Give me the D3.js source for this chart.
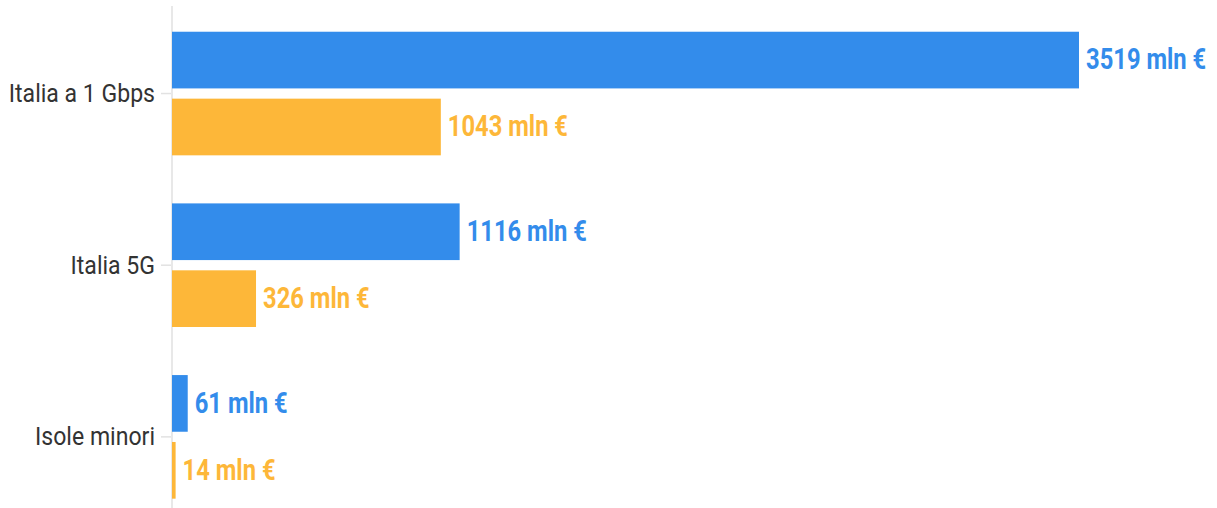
<!DOCTYPE html>
<html>
<head>
<meta charset="utf-8">
<script src="https://cdn.jsdelivr.net/npm/d3@7"></script>
<style>
  body { margin: 0; background: #fff; }
  svg { display: block; }
</style>
</head>
<body>
<div id="chart"></div>
<script>
var categories = ["Italia a 1 Gbps", "Italia 5G", "Isole minori"];
var seriesNames = ["a", "b"];
var seriesA = [3519, 1116, 61];
var seriesB = [1043, 326, 14];
var colors = ["#338ceb", "#fdb739"];

var w = 1217, h = 508;
var x0 = 172;
// no condensed font installed, so squeeze Roboto horizontally
var squeeze = 0.82;

var svg = d3.select("#chart")
    .append("svg")
    .attr("width", w)
    .attr("height", h);

var data = categories.map(function(c, i) {
    return { cat: c, values: [seriesA[i], seriesB[i]] };
});

var x = d3.scaleLinear()
    .domain([0, 3519])
    .range([x0, 1079]);

var y = d3.scaleBand()
    .domain(categories)
    .range([7.7, 522.7])
    .paddingInner(0.28)
    .paddingOuter(0.14);

var ys = d3.scaleBand()
    .domain(seriesNames)
    .range([0, y.bandwidth()])
    .paddingInner(0.153);

// axis
var axis = svg.append("g")
    .attr("transform", "translate(" + x0 + ",0)")
    .call(d3.axisLeft(y).tickSize(11).tickPadding(6));
axis.select(".domain").remove();
axis.append("line")
    .attr("x1", 0).attr("x2", 0)
    .attr("y1", 6).attr("y2", h)
    .attr("stroke", "#e8e8e8")
    .attr("stroke-width", 2);
axis.selectAll(".tick line")
    .attr("stroke", "#e2e2e2")
    .attr("stroke-width", 1.5);
axis.selectAll(".tick text")
    .attr("x", 0)
    .attr("transform", "translate(-17,0) scale(0.87,1)")
    .attr("fill", "#333")
    .style("font-family", "Roboto, sans-serif")
    .style("font-size", "26.5px");

// bars
var groups = svg.selectAll(".group")
    .data(data)
    .enter()
    .append("g")
    .attr("class", "group")
    .attr("transform", function(d) { return "translate(0," + y(d.cat) + ")"; });

groups.selectAll("rect")
    .data(function(d) { return d.values; })
    .enter()
    .append("rect")
    .attr("x", x(0))
    .attr("y", function(d, i) { return ys(seriesNames[i]); })
    .attr("width", function(d) { return x(d) - x(0); })
    .attr("height", ys.bandwidth())
    .attr("fill", function(d, i) { return colors[i]; });

// labels
groups.selectAll(".val")
    .data(function(d) { return d.values; })
    .enter()
    .append("text")
    .attr("class", "val")
    .attr("transform", function(d, i) {
        return "translate(" + (x(d) + 7) + "," + (ys(seriesNames[i]) + ys.bandwidth() / 2) + ") scale(" + squeeze + ",1)";
    })
    .attr("dy", "0.32em")
    .attr("fill", function(d, i) { return colors[i]; })
    .style("font-family", "Roboto, sans-serif")
    .style("font-weight", "bold")
    .style("font-size", "29px")
    .text(function(d) { return d + " mln €"; });
</script>
</body>
</html>
